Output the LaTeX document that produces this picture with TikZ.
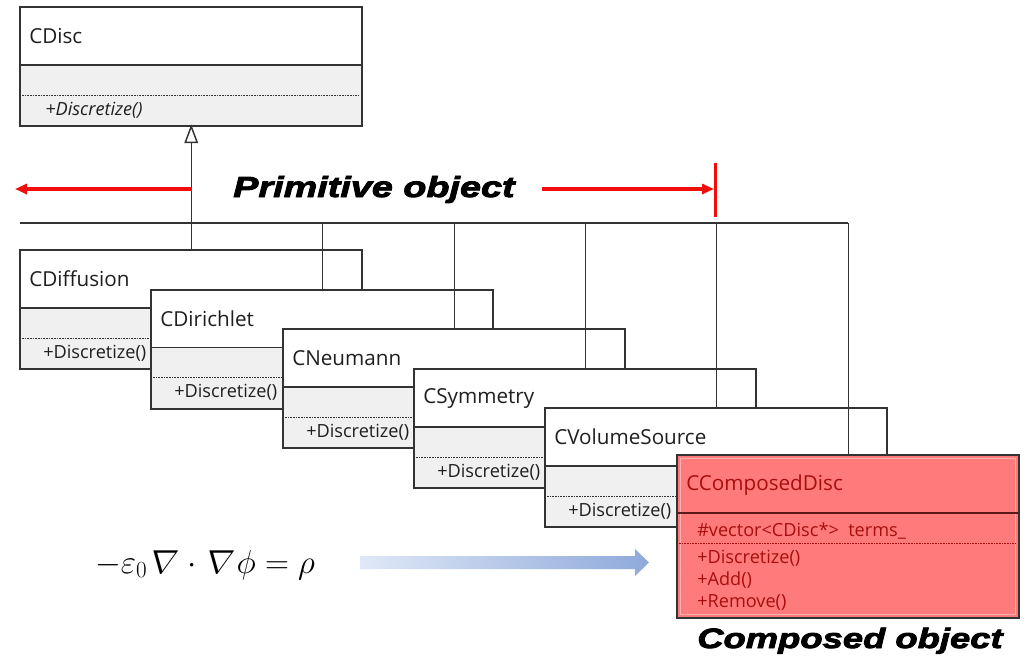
\documentclass[tikz,border=0pt]{standalone}
\usepackage{fontspec}
\setmainfont{Open Sans}
\newfontfamily\heavyfont[FakeBold=3,FakeStretch=1.3]{Liberation Sans}
\usetikzlibrary{arrows.meta,calc}

\definecolor{frame}{HTML}{333333}
\definecolor{opsfill}{HTML}{F0F0F0}
\definecolor{compfill}{HTML}{FF7B7B}
\definecolor{compink}{HTML}{A80E0E}
\definecolor{compline}{HTML}{5A1A1A}
\definecolor{compinner}{HTML}{FFB2B2}
\definecolor{hint}{HTML}{F20D0D}
\definecolor{flowL}{HTML}{DFE8F6}
\definecolor{flowR}{HTML}{8EA9DB}

\tikzset{
  classframe/.style={rectangle, anchor=north west, inner sep=0pt,
    minimum width=255.75pt, minimum height=88.5pt, draw=frame, fill=white, line width=1.1pt},
  frameline/.style={draw=frame, line width=1.1pt},
  dotsep/.style={draw=frame, line width=0.6pt, dash pattern=on 1.2pt off 0.8pt},
  titletext/.style={anchor=west, inner sep=0pt, text=black!88,
    font=\fontsize{15.5}{18}\selectfont},
  optext/.style={anchor=west, inner sep=0pt, text=black!88,
    font=\fontsize{13.6}{16}\selectfont},
  link/.style={draw=frame, line width=1.1pt},
  hintarrow/.style={draw=hint, line width=2.6pt,
    -{Triangle[length=9pt,width=7.5pt]}},
  bigtext/.style={anchor=base west, inner sep=0pt,
    font=\heavyfont\bfseries\itshape\fontsize{21}{24}\selectfont},
}

% slanted nabla, as in an italic math font
\newcommand\slantnabla{\mathord{\tikz[baseline=(g.base)]
  \node[inner sep=0pt, anchor=base, xslant=0.22] (g) {$\nabla$};}}

% class box: id, left, top, title, operation
\newcommand\primclass[5]{%
  \node[classframe] (#1) at (#2,#3) {};
  \fill[opsfill] (#2,#3+58) rectangle (#2+341,#3+118);
  \draw[frameline] (#2,#3+58) -- (#2+341,#3+58);
  \draw[dotsep] (#2+2,#3+88) -- (#2+339,#3+88);
  \draw[frameline] (#1.north west) rectangle (#1.south east);
  \node[titletext] (#1-name) at (#2+9,#3+29) {#4};
  \node[optext] (#1-op) at (#2+23,#3+103) {#5};
}

\begin{document}
\begin{tikzpicture}[x=0.75pt,y=-0.75pt]
\useasboundingbox (0,0) rectangle (1029,661);
\fill[white] (0,0) rectangle (1029,661);

% base class
\primclass{cdisc}{20}{7}{CDisc}{\hspace*{1.5pt}\itshape +Discretize()}

% primitive terms, stacked
\primclass{cdiff}{20}{250}{CDiffusion}{+Discretize()}
\primclass{cdiri}{151}{289.5}{CDirichlet}{+Discretize()}
\primclass{cneum}{283}{329}{CNeumann}{+Discretize()}
\primclass{csymm}{414}{369}{CSymmetry}{+Discretize()}
\primclass{cvols}{545}{408}{CVolumeSource}{+Discretize()}

% composite term
\node[classframe, minimum height=121.5pt, fill=compfill] (ccomp) at (677,455) {};
\draw[compinner, line width=0.7pt] (680,458) rectangle (1015,614);
\draw[compline, line width=1.1pt] (677,513) -- (1018,513);
\draw[compink, line width=0.6pt, dash pattern=on 1.2pt off 0.8pt] (679,543) -- (1016,543);
\draw[frameline] (ccomp.north west) rectangle (ccomp.south east);
\node[titletext, text=compink] (ccomp-name) at (686,485) {CComposedDisc};
\node[optext, text=compink] (ccomp-attr) at (697,531) {\#vector<CDisc*>\ \ terms\_};
\node[optext, text=compink] (ccomp-op1) at (697,558) {+Discretize()};
\node[optext, text=compink] (ccomp-op2) at (697,580) {+Add()};
\node[optext, text=compink] (ccomp-op3) at (697,602) {+Remove()};

% generalization tree
\coordinate (busL) at (20,223);
\coordinate (triBase) at ($(cdisc.south)+(0,16)$);
\draw[link] (busL) -- (ccomp.north |- busL);
\draw[link] (triBase) -- (cdiff.north);
\draw[link, fill=white] (cdisc.south) -- ++(-6,16) -- ++(12,0) -- cycle;
\draw[link] (cdiri.north |- busL) -- (cdiri.north);
\draw[link] (cneum.north |- busL) -- (cneum.north);
\draw[link] (csymm.north |- busL) -- (csymm.north);
\draw[link] (cvols.north |- busL) -- (cvols.north);
\draw[link] (ccomp.north |- busL) -- (ccomp.north);

% primitive range marker
\node[bigtext, font=\heavyfont\bfseries\itshape\fontsize{21.8}{24}\selectfont] (prim) at (233,197) {Primitive object};
\coordinate (primL0) at (192,189);
\coordinate (primL1) at (15,189);
\coordinate (primR0) at (542,189);
\coordinate (primR1) at (714,189);
\coordinate (barTop) at (715.5,163);
\coordinate (barBot) at (715.5,217);
\draw[hintarrow] (primL0) -- (primL1);
\draw[hintarrow] (primR0) -- (primR1);
\draw[draw=hint, line width=2.8pt] (barTop) -- (barBot);

\node[bigtext] (compo) at (697,648) {Composed object};

% governing equation and flow arrow
\node[anchor=base, inner sep=0pt, font=\fontsize{25}{30}\selectfont] (eqn) at (205,573)
  {$-\varepsilon_0\slantnabla\cdot\slantnabla\phi=\rho$};
\shade[left color=flowL, right color=flowR, shading angle=90]
  (360,556) -- (635,556) -- (635,549) -- (649,562.5) -- (635,576) -- (635,569) -- (360,569) -- cycle;
\end{tikzpicture}
\end{document}
